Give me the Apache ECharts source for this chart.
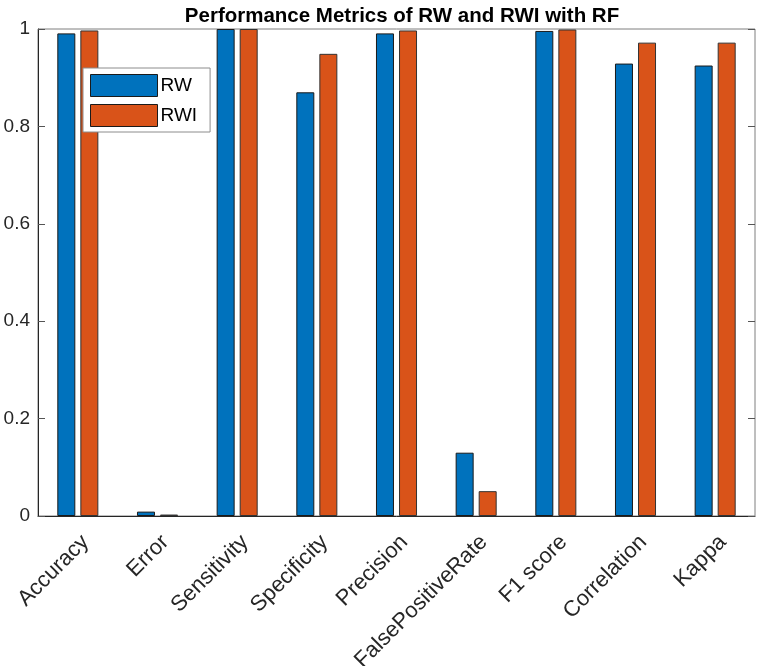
<!DOCTYPE html>
<html>
<head>
<meta charset="utf-8">
<script src="https://cdn.jsdelivr.net/npm/echarts@6/dist/echarts.min.js"></script>
<style>
  html, body { margin: 0; padding: 0; background: #fff; }
  #main { width: 757px; height: 666px; }
</style>
</head>
<body>
<div id="main"></div>
<script>
// metrics on the x axis
const metrics = ['Accuracy', 'Error', 'Sensitivity', 'Specificity', 'Precision',
  'FalsePositiveRate', 'F1 score', 'Correlation', 'Kappa']
// values
const rwValues = [0.991, 0.009, 1.0, 0.870, 0.991, 0.130, 0.996, 0.929, 0.925]
const rwiValues = [0.997, 0.003, 1.0, 0.949, 0.997, 0.051, 0.999, 0.972, 0.972]
const yTicks = [0, 0.2, 0.4, 0.6, 0.8, 1]

const axisColor = '#262626'
const font = 'Liberation Sans'

const chart = echarts.init(document.getElementById('main'), null, { renderer: 'canvas' })

const option = {
  backgroundColor: '#fff',
  animation: false,
  textStyle: { fontFamily: font },
  title: {
    text: 'Performance Metrics of RW and RWI with RF',
    left: 397,
    textAlign: 'center',
    top: 1,
    textStyle: { fontSize: 20.5, fontWeight: 'bold', color: '#000', fontFamily: font }
  },
  legend: {
    orient: 'vertical',
    left: 83,
    top: 68,
    padding: [6, 13, 5, 7],
    itemWidth: 67,
    itemHeight: 22,
    itemGap: 7,
    icon: 'rect',
    backgroundColor: '#fff',
    borderColor: '#8c8c8c',
    borderWidth: 1,
    borderRadius: 0,
    itemStyle: { borderColor: '#1a1a1a', borderWidth: 1 },
    textStyle: { fontSize: 19, color: '#000', lineHeight: 22, padding: [0, 0, 0, -2] },
    data: ['RW', 'RWI']
  },
  grid: {
    left: 38,
    right: 2,
    top: 29,
    bottom: 150,
    show: true,
    borderColor: '#7f7f7f',
    borderWidth: 1,
    containLabel: false,
    outerBoundsMode: 'none'
  },
  xAxis: [
    {
      type: 'category',
      data: metrics,
      position: 'bottom',
      axisLine: { lineStyle: { color: axisColor, width: 1 } },
      axisTick: { inside: true, length: 7, alignWithLabel: true, lineStyle: { color: '#7f7f7f' } },
      axisLabel: { rotate: 45, fontSize: 22, color: axisColor, margin: 15, interval: 0, verticalAlign: 'top' }
    },
    {
      type: 'category',
      data: metrics,
      position: 'top',
      axisLine: { show: false },
      axisTick: { inside: true, length: 7, alignWithLabel: true, lineStyle: { color: '#7f7f7f' } },
      axisLabel: { show: false }
    }
  ],
  yAxis: [
    {
      type: 'value',
      min: 0,
      max: 1,
      interval: 0.2,
      position: 'left',
      splitLine: { show: false },
      axisLine: { show: true, lineStyle: { color: axisColor, width: 1 } },
      axisTick: { show: true, inside: true, length: 7, lineStyle: { color: '#555' } },
      axisLabel: {
        fontSize: 19, color: axisColor, margin: 8,
        formatter: v => yTicks.includes(+v.toFixed(1)) ? String(+v.toFixed(1)) : ''
      }
    },
    {
      type: 'value',
      min: 0,
      max: 1,
      interval: 0.2,
      position: 'right',
      splitLine: { show: false },
      axisLine: { show: false },
      axisTick: { show: true, inside: true, length: 7, lineStyle: { color: '#555' } },
      axisLabel: { show: false }
    }
  ],
  series: [
    {
      name: 'RW',
      type: 'bar',
      data: rwValues,
      barWidth: 18,
      barGap: '28%',
      itemStyle: { color: '#0072BD', borderColor: '#1a1a1a', borderWidth: 1 }
    },
    {
      name: 'RWI',
      type: 'bar',
      data: rwiValues,
      barWidth: 18,
      itemStyle: { color: '#D95319', borderColor: '#333', borderWidth: 1 }
    }
  ]
}

chart.setOption(option)
</script>
</body>
</html>
